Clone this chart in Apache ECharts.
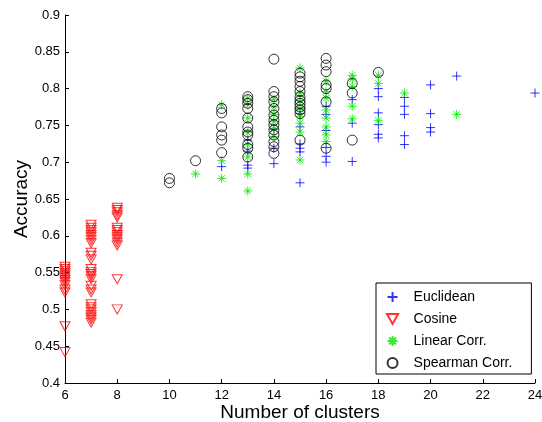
<!DOCTYPE html>
<html>
<head>
<meta charset="utf-8">
<script src="https://cdn.jsdelivr.net/npm/echarts@6/dist/echarts.min.js"></script>
<style>
  html, body { margin: 0; padding: 0; background: #fff; }
  #chart { width: 542px; height: 422px; }
</style>
</head>
<body>
<div id="chart"></div>
<script>
// values, as [clusters, accuracy]
var euclidean = [
  [12, 0.694],
  [13, 0.730], [13, 0.715], [13, 0.696], [13, 0.692],
  [14, 0.745], [14, 0.719], [14, 0.698],
  [15, 0.766], [15, 0.748], [15, 0.725], [15, 0.719], [15, 0.714], [15, 0.672],
  [16, 0.776], [16, 0.765], [16, 0.743], [16, 0.720], [16, 0.708], [16, 0.700],
  [17, 0.785], [17, 0.753], [17, 0.701],
  [18, 0.800], [18, 0.789], [18, 0.767], [18, 0.751], [18, 0.738], [18, 0.733],
  [19, 0.788], [19, 0.776], [19, 0.765], [19, 0.736], [19, 0.724],
  [20, 0.805], [20, 0.766], [20, 0.747], [20, 0.741],
  [21, 0.817],
  [24, 0.794]
];
var cosine = [
  [6, 0.558], [6, 0.555], [6, 0.552], [6, 0.549], [6, 0.546], [6, 0.543], [6, 0.540],
  [6, 0.537], [6, 0.533], [6, 0.527], [6, 0.523], [6, 0.477], [6, 0.442],
  [7, 0.615], [7, 0.611], [7, 0.608], [7, 0.605], [7, 0.601], [7, 0.598], [7, 0.594],
  [7, 0.590], [7, 0.577], [7, 0.573], [7, 0.568], [7, 0.555], [7, 0.551], [7, 0.548],
  [7, 0.545], [7, 0.541], [7, 0.532], [7, 0.527], [7, 0.523], [7, 0.507], [7, 0.503],
  [7, 0.500], [7, 0.496], [7, 0.492], [7, 0.489], [7, 0.486], [7, 0.482],
  [8, 0.638], [8, 0.635], [8, 0.632], [8, 0.628], [8, 0.625], [8, 0.611], [8, 0.608],
  [8, 0.605], [8, 0.601], [8, 0.598], [8, 0.595], [8, 0.591], [8, 0.587], [8, 0.541],
  [8, 0.500]
];
var linearCorr = [
  [11, 0.684],
  [12, 0.778], [12, 0.702], [12, 0.678],
  [13, 0.787], [13, 0.778], [13, 0.760], [13, 0.740], [13, 0.724], [13, 0.707], [13, 0.684], [13, 0.661],
  [14, 0.785], [14, 0.775], [14, 0.765], [14, 0.755], [14, 0.745], [14, 0.735],
  [15, 0.828], [15, 0.794], [15, 0.784], [15, 0.773], [15, 0.762], [15, 0.753], [15, 0.741], [15, 0.703],
  [16, 0.810], [16, 0.796], [16, 0.787], [16, 0.771], [16, 0.760], [16, 0.748], [16, 0.737], [16, 0.728],
  [17, 0.818], [17, 0.813], [17, 0.803], [17, 0.776], [17, 0.759],
  [18, 0.818], [18, 0.807], [18, 0.757],
  [19, 0.794],
  [21, 0.765]
];
var spearmanCorr = [
  [10, 0.678], [10, 0.672],
  [11, 0.702],
  [12, 0.773], [12, 0.767], [12, 0.748], [12, 0.737], [12, 0.730], [12, 0.713],
  [13, 0.789], [13, 0.785], [13, 0.780], [13, 0.773], [13, 0.760], [13, 0.748],
  [13, 0.741], [13, 0.737], [13, 0.724], [13, 0.719], [13, 0.707],
  [14, 0.840], [14, 0.796], [14, 0.789], [14, 0.782], [14, 0.773], [14, 0.764], [14, 0.757],
  [14, 0.751], [14, 0.744], [14, 0.737], [14, 0.728], [14, 0.721], [14, 0.712],
  [15, 0.821], [15, 0.816], [15, 0.810], [15, 0.803], [15, 0.796], [15, 0.789],
  [15, 0.784], [15, 0.780], [15, 0.775], [15, 0.771], [15, 0.766], [15, 0.730],
  [16, 0.841], [16, 0.832], [16, 0.823], [16, 0.805], [16, 0.800], [16, 0.782], [16, 0.719],
  [17, 0.807], [17, 0.794], [17, 0.730],
  [18, 0.822]
];
var seriesNames = ['Euclidean', 'Cosine', 'Linear Corr.', 'Spearman Corr.'];

var font = '"Liberation Sans", Arial, Helvetica, sans-serif';
var plusPath = 'path://M0,5 L10,5 M5,0 L5,10';
var starPath = 'path://M5,0 L5,10 M0,5 L10,5 M1.5,1.5 L8.5,8.5 M8.5,1.5 L1.5,8.5';
var triPath = 'path://M0,0 L10,0 L5,9 Z';

function scatter(name, data, symbol, size, color) {
  return {
    name: name,
    type: 'scatter',
    data: data,
    symbol: symbol,
    symbolSize: size,
    itemStyle: { color: 'transparent', borderColor: color, borderWidth: 1 },
    emphasis: { disabled: true },
    animation: false
  };
}

var chart = echarts.init(document.getElementById('chart'));
chart.setOption({
  backgroundColor: '#fff',
  animation: false,
  grid: { left: 65, right: 7, top: 15, bottom: 39, outerBoundsMode: 'none' },
  xAxis: {
    type: 'value',
    min: 6, max: 24, interval: 2,
    name: 'Number of clusters',
    nameLocation: 'middle',
    nameMoveOverlap: false,
    nameGap: 20,
    nameTextStyle: { fontFamily: font, fontSize: 19, color: '#000' },
    axisLine: { lineStyle: { color: '#000', width: 1 } },
    axisTick: { inside: true, length: 4, lineStyle: { color: '#000' } },
    axisLabel: { fontFamily: font, fontSize: 13, color: '#000', margin: 6 },
    splitLine: { show: false }
  },
  yAxis: {
    type: 'value',
    min: 0.4, max: 0.9, interval: 0.05,
    name: 'Accuracy',
    nameLocation: 'middle',
    nameMoveOverlap: false,
    nameGap: 34,
    nameTextStyle: { fontFamily: font, fontSize: 19, color: '#000' },
    axisLine: { show: true, lineStyle: { color: '#000', width: 1 } },
    axisTick: { show: true, inside: true, length: 4, lineStyle: { color: '#000' } },
    axisLabel: { fontFamily: font, fontSize: 13, color: '#000', margin: 5 },
    splitLine: { show: false }
  },
  legend: {
    data: seriesNames,
    orient: 'vertical',
    left: 376, top: 283,
    padding: [7, 19, 4, 10],
    itemWidth: 32, itemHeight: 10, itemGap: 8,
    borderColor: '#000', borderWidth: 1,
    backgroundColor: '#fff',
    textStyle: { fontFamily: font, fontSize: 14, color: '#000' }
  },
  series: [
    scatter(seriesNames[0], euclidean, plusPath, 9, '#0000ff'),
    scatter(seriesNames[1], cosine, triPath, [10, 9], '#ff0000'),
    scatter(seriesNames[2], linearCorr, starPath, 9, '#00e600'),
    scatter(seriesNames[3], spearmanCorr, 'circle', 10, '#000')
  ]
});
</script>
</body>
</html>
